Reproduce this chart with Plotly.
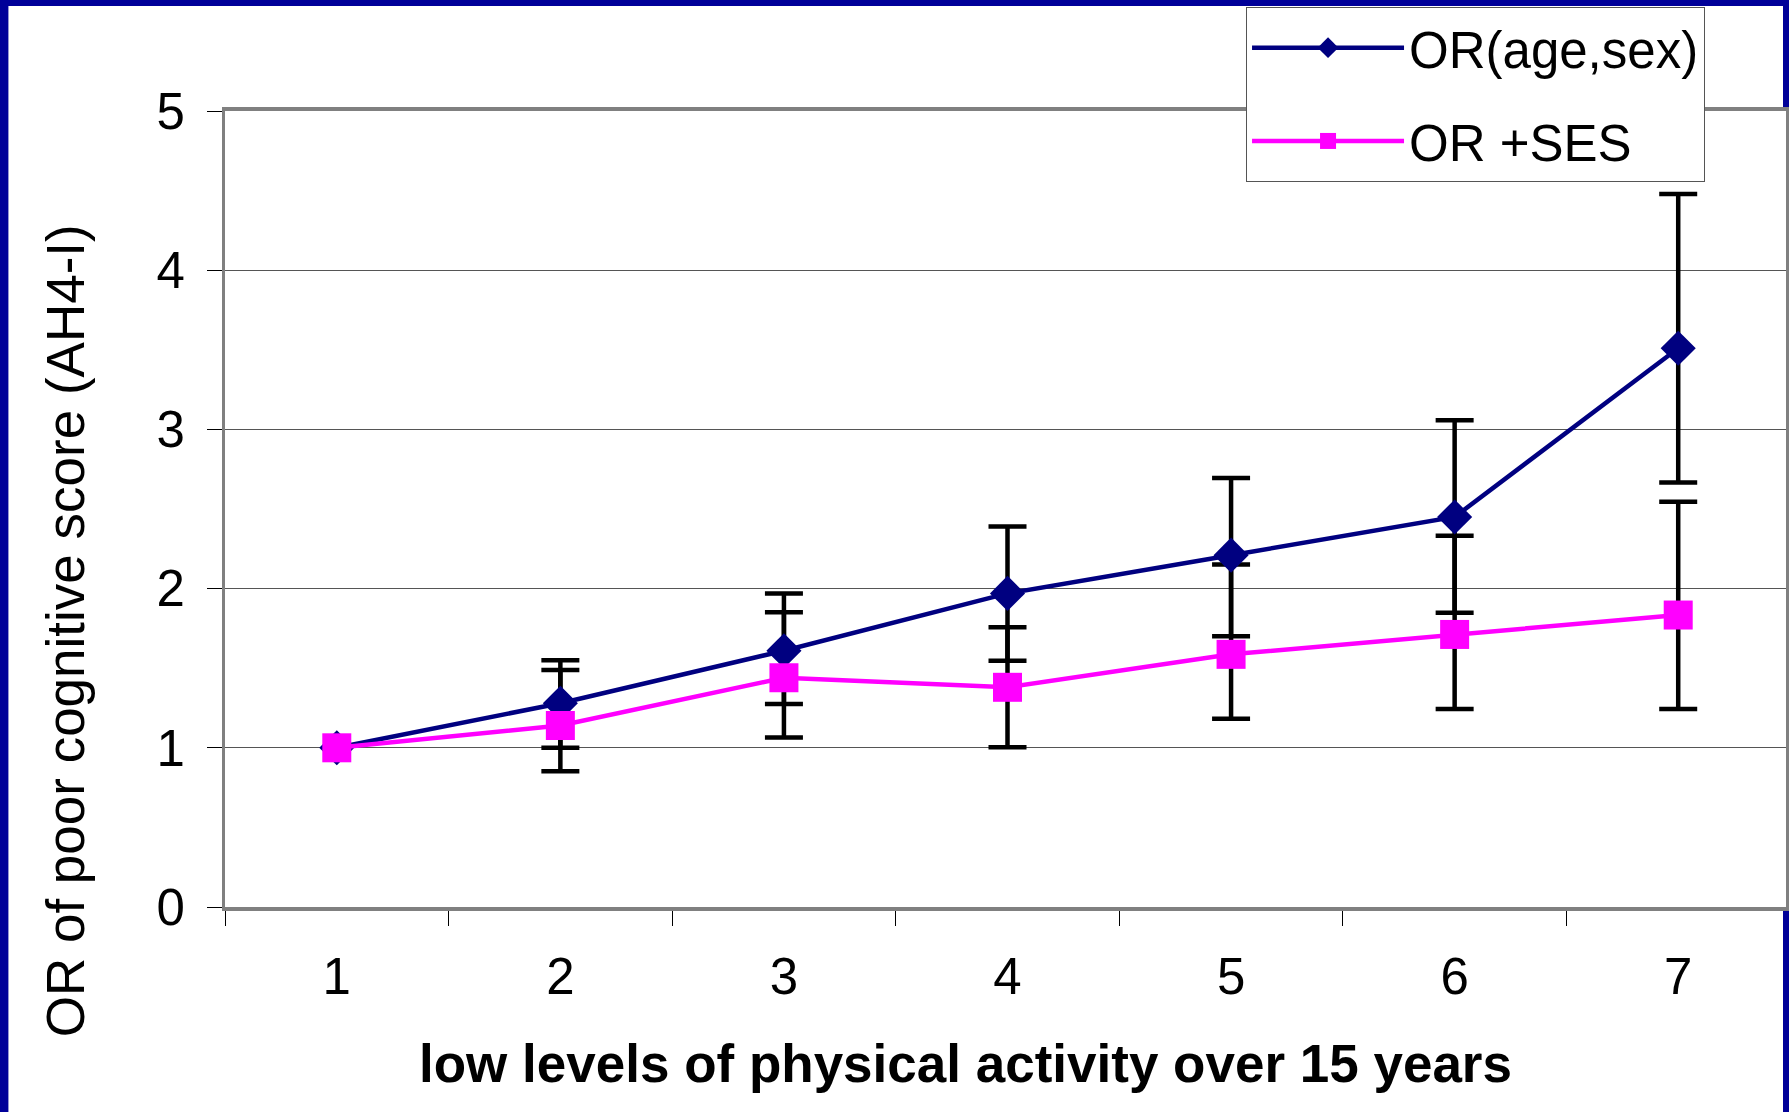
import plotly.graph_objects as go

categories = ["1", "2", "3", "4", "5", "6", "7"]

or_age_sex = [1.00, 1.28, 1.61, 1.97, 2.21, 2.45, 3.51]
or_age_sex_lo = [None, 1.00, 1.275, 1.547, 1.70, 1.849, 2.666]
or_age_sex_hi = [None, 1.55, 1.97, 2.39, 2.695, 3.058, 4.479]

or_ses = [1.00, 1.14, 1.44, 1.38, 1.587, 1.712, 1.834]
or_ses_lo = [None, 0.852, 1.064, 1.003, 1.183, 1.243, 1.243]
or_ses_hi = [None, 1.489, 1.851, 1.757, 2.151, 2.332, 2.546]

y_ticks = [0, 1, 2, 3, 4, 5]


def with_ci(cats, v, lo, hi):
    keep = [i for i in range(len(v)) if lo[i] is not None and hi[i] is not None]
    return ([cats[i] for i in keep], [v[i] for i in keep],
            [hi[i] - v[i] for i in keep], [v[i] - lo[i] for i in keep])


W, H = 1789, 1112
ML, MR, MT, MB = 225, 0, 111, 205
PW, PH = W - ML - MR, H - MT - MB


def px_x(p):
    return (p - ML) / PW


def px_y(p):
    return (H - MB - p) / PH


FONT = "Liberation Sans, Arial, sans-serif"

fig = go.Figure()

# error bars (drawn beneath the series lines and markers)
for v, lo, hi in [(or_age_sex, or_age_sex_lo, or_age_sex_hi),
                  (or_ses, or_ses_lo, or_ses_hi)]:
    cx, cy, plus, minus = with_ci(categories, v, lo, hi)
    fig.add_trace(go.Scatter(
        x=cx, y=cy, mode="markers", showlegend=False, hoverinfo="skip",
        marker=dict(size=1, opacity=0),
        error_y=dict(type="data", symmetric=False, array=plus, arrayminus=minus,
                     color="black", thickness=4.5, width=19),
    ))

fig.add_trace(go.Scatter(
    x=categories, y=or_age_sex, name="OR(age,sex)", mode="lines+markers",
    line=dict(color="#000080", width=4.5),
    marker=dict(symbol="diamond", size=27, color="#000080"),
    legendgroup="a",
))

fig.add_trace(go.Scatter(
    x=categories, y=or_ses, name="OR +SES", mode="lines+markers",
    line=dict(color="#FF00FF", width=4.5),
    marker=dict(symbol="square", size=29, color="#FF00FF"),
    legendgroup="b",
))

fig.update_layout(
    width=W, height=H,
    margin=dict(l=ML, r=MR, t=MT, b=MB, pad=0),
    paper_bgcolor="#000099",
    plot_bgcolor="white",
    font=dict(family=FONT, color="black", size=51),
    showlegend=True,
    legend=dict(
        x=px_x(1248), y=px_y(7), xanchor="left", yanchor="top",
        bgcolor="white", bordercolor="#555555", borderwidth=1,
        font=dict(family=FONT, size=51, color="black"),
        itemwidth=152, tracegroupgap=24, traceorder="grouped",
        itemsizing="trace",
    ),
    shapes=[dict(
        type="rect", xref="paper", yref="paper", layer="below",
        x0=px_x(8), x1=px_x(1786), y0=px_y(H + 10), y1=px_y(6),
        fillcolor="white", line=dict(width=0),
    )],
    annotations=[
        dict(text="low levels of physical activity over 15 years",
             xref="paper", yref="paper", x=px_x(967), y=px_y(1063),
             xanchor="center", yanchor="middle", showarrow=False,
             font=dict(family=FONT, size=53, color="black", weight="bold")),
        dict(text="OR of poor cognitive score (AH4-I)",
             xref="paper", yref="paper", x=px_x(65), y=px_y(631),
             xanchor="center", yanchor="middle", showarrow=False, textangle=-90,
             font=dict(family=FONT, size=53, color="black")),
    ],
)

fig.update_xaxes(
    type="category", categoryorder="array", categoryarray=categories,
    range=[-0.5, -0.5 + PW / 224.0],
    tickson="boundaries", ticks="outside", ticklen=15, tickwidth=1.2, tickcolor="black",
    showline=True, linecolor="#808080", linewidth=4, mirror=True,
    showgrid=False, zeroline=False,
    tickfont=dict(family=FONT, size=51, color="black"),
    ticklabelstandoff=22,
)

fig.update_yaxes(
    range=[0, 5], tickvals=y_ticks, ticktext=[str(v) for v in y_ticks],
    ticks="outside", ticklen=15, tickwidth=1.2, tickcolor="black",
    showline=True, linecolor="#808080", linewidth=3, mirror=True,
    showgrid=True, gridcolor="#555555", gridwidth=1, zeroline=False,
    tickfont=dict(family=FONT, size=51, color="black"),
    ticklabelstandoff=12,
)

fig.write_html("out.html")
